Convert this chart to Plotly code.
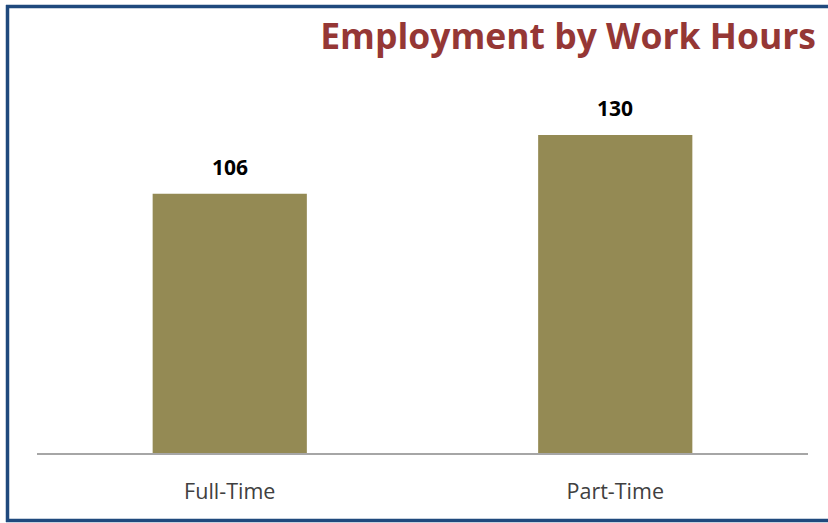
import plotly.graph_objects as go

# Employment counts by work-hour category
categories = ["Full-Time", "Part-Time"]
employment = [106, 130]

W, H = 828, 523
BAR_COLOR = "#948A54"
TITLE_COLOR = "#953735"
FRAME_COLOR = "#1F497D"
FONT = "Open Sans, Lato, sans-serif"

# plot area in pixels
PLOT_L, PLOT_R, PLOT_T, PLOT_B = 37, 808, 86, 453
PW, PH = PLOT_R - PLOT_L, PLOT_B - PLOT_T


def fx(px):
    return (px - PLOT_L) / PW


def fy(py):
    return (PLOT_B - py) / PH


fig = go.Figure(
    go.Bar(
        x=categories,
        y=employment,
        marker=dict(color=BAR_COLOR, line=dict(width=0)),
        width=0.4,
        hoverinfo="x+y",
    )
)

# value labels sitting above each bar
for cat, val in zip(categories, employment):
    fig.add_annotation(
        x=cat, y=val, text=f"<b>{val}</b>",
        showarrow=False, yanchor="bottom", yshift=11,
        font=dict(family=FONT, size=21, color="#000000"),
    )

frame_line = dict(color=FRAME_COLOR, width=3.5)

fig.update_layout(
    width=W, height=H,
    margin=dict(l=PLOT_L, r=W - PLOT_R, t=PLOT_T, b=H - PLOT_B),
    paper_bgcolor="white",
    plot_bgcolor="white",
    showlegend=False,
    title=dict(
        text="<b>Employment by Work Hours</b>",
        xref="container", yref="container",
        x=816 / W, xanchor="right",
        y=1 - 37 / H, yanchor="middle",
        font=dict(family=FONT, size=35.5, color=TITLE_COLOR),
    ),
    xaxis=dict(
        showline=True, linecolor="#A6A6A6", linewidth=2,
        ticks="", showgrid=False,
        tickfont=dict(family=FONT, size=21.5, color="#404040"),
        ticklabelstandoff=18,
    ),
    yaxis=dict(
        range=[0, 150], visible=False, showgrid=False, zeroline=False,
    ),
    # dark blue frame (left, top and bottom edges)
    shapes=[
        dict(type="line", xref="paper", yref="paper",
             x0=fx(6), x1=fx(830), y0=fy(6.5), y1=fy(6.5),
             line=frame_line, layer="above"),
        dict(type="line", xref="paper", yref="paper",
             x0=fx(6), x1=fx(830), y0=fy(520.5), y1=fy(520.5),
             line=frame_line, layer="above"),
        dict(type="line", xref="paper", yref="paper",
             x0=fx(7.5), x1=fx(7.5), y0=fy(5), y1=fy(522),
             line=frame_line, layer="above"),
    ],
)

fig.write_html("out.html")
